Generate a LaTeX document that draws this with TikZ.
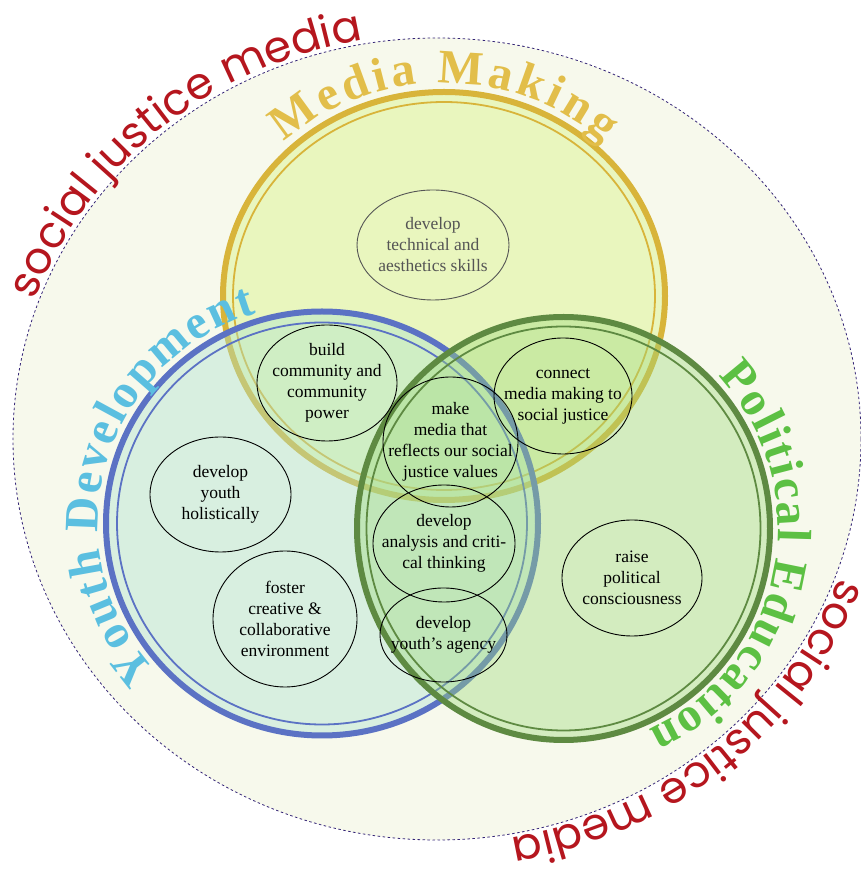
\documentclass[tikz,border=0pt]{standalone}
\usepackage{fontspec}
\setmainfont{Liberation Serif}
\newfontfamily\ArcFont{Poppins}
\usepackage{xcolor}
\definecolor{ColBack}{RGB}{247,249,236}
\definecolor{ColDots}{RGB}{52,36,118}
\definecolor{ColRed}{RGB}{181,22,30}
\definecolor{ColMedia}{RGB}{233,246,190}
\definecolor{ColMediaLine}{RGB}{216,180,58}
\definecolor{ColMediaText}{RGB}{226,190,74}
\definecolor{ColYouth}{RGB}{170,226,206}
\definecolor{ColYouthLine}{RGB}{91,114,196}
\definecolor{ColYouthText}{RGB}{91,191,224}
\definecolor{ColPolit}{RGB}{157,217,124}
\definecolor{ColPolitLine}{RGB}{94,138,66}
\definecolor{ColPolitText}{RGB}{92,192,67}
\definecolor{ColGrey}{RGB}{85,85,85}
\usepackage{tikz}
\usetikzlibrary{calc}
\usetikzlibrary{decorations.text}
\tikzstyle{Ring}=[line width=6pt]
\tikzstyle{InnerRing}=[line width=1.8pt]
\tikzstyle{Goal}=[font=\fontsize{17.5}{21}\selectfont,align=center,inner sep=0pt]
\tikzstyle{Bubble}=[draw=black,line width=0.9pt]
\tikzset{Title/.style 2 args={decorate,decoration={text along path,
    text={|\bfseries\fontsize{48}{48}\selectfont|#1},text color=#2,
    text align={fit to path}}}}
\tikzset{Banner/.style={decorate,decoration={text along path,
    text={|\ArcFont\fontsize{44}{44}\selectfont|social justice media},
    text color=ColRed,text align={fit to path}}}}

\begin{document}
\begin{tikzpicture}[x=1pt,y=1pt]
        \useasboundingbox(0,0)rectangle(861,873);
        \coordinate(world)at(437,434);
        \coordinate(media)at(444,577);
        \coordinate(youth)at(322,349.5);
        \coordinate(polit)at(563.5,344.5);
        \filldraw[fill=ColBack,draw=ColDots,line width=0.8pt,
                dash pattern=on 2.5pt off 2.5pt]
                (world) ellipse[x radius=424,y radius=401];
        \path[Banner]($(world)+(160:428 and 405)$)
                arc[start angle=160,end angle=100.5,x radius=428,y radius=405];
        \path[Banner]($(world)+(-20:428 and 405)$)
                arc[start angle=-20,end angle=-79.5,x radius=428,y radius=405];
        \fill[ColMedia](media) ellipse[x radius=221,y radius=204];
        \draw[Ring,ColMediaLine](media) ellipse[x radius=221,y radius=204];
        \draw[InnerRing,ColMediaLine](media) ellipse[x radius=211,y radius=194];
        \path[Title={Media Making}{ColMediaText}]($(media)+(134:230 and 213)$)
                arc[start angle=134,end angle=46,x radius=230,y radius=213];
        \fill[ColYouth,fill opacity=.4](youth) ellipse[x radius=216,y radius=212];
        \draw[Ring,ColYouthLine](youth) ellipse[x radius=216,y radius=212];
        \draw[InnerRing,ColYouthLine](youth) ellipse[x radius=205,y radius=201];
        \path[Title={Youth Development}{ColYouthText}]($(youth)+(222:224 and 220)$)
                arc[start angle=222,end angle=107,x radius=224,y radius=220];
        \fill[ColPolit,fill opacity=.4](polit) ellipse[x radius=206.5,y radius=211.5];
        \draw[Ring,ColPolitLine](polit) ellipse[x radius=206.5,y radius=211.5];
        \draw[InnerRing,ColPolitLine](polit) ellipse[x radius=197,y radius=202];
        \path[Title={Political Education}{ColPolitText}]($(polit)+(44:214.5 and 219.5)$)
                arc[start angle=44,end angle=-66.5,x radius=214.5,y radius=219.5];
        \node[Goal,text=ColGrey](skills)at(433,628)
                {develop\\technical and\\aesthetics skills};
        \node[Goal](community)at(327,490)
                {build\\community and\\community\\power};
        \node[Goal](connect)at(563,477)
                {connect\\media making to\\social justice};
        \node[Goal](values)at(450.5,431)
                {make\\media that\\reflects our social\\justice values};
        \node[Goal](analysis)at(444,329.5)
                {develop\\analysis and criti-\\cal thinking};
        \node[Goal](agency)at(443.5,238)
                {develop\\youth’s agency};
        \node[Goal](holistic)at(220.5,378.5)
                {develop\\youth\\holistically};
        \node[Goal](foster)at(285,254)
                {foster\\creative \&\\collaborative\\environment};
        \node[Goal](raise)at(632,295)
                {raise\\political\\consciousness};
        \draw[Bubble,draw=ColGrey](skills) ellipse[x radius=76,y radius=55];
        \draw[Bubble](community) ellipse[x radius=70,y radius=58];
        \draw[Bubble](connect) ellipse[x radius=69,y radius=58];
        \draw[Bubble](values) ellipse[x radius=67.5,y radius=65];
        \draw[Bubble](analysis) ellipse[x radius=71,y radius=58.5];
        \draw[Bubble](agency) ellipse[x radius=63.5,y radius=47];
        \draw[Bubble](holistic) ellipse[x radius=70.5,y radius=57.5];
        \draw[Bubble](foster) ellipse[x radius=72,y radius=68];
        \draw[Bubble](raise) ellipse[x radius=70,y radius=58];
    \end{tikzpicture}
\end{document}
